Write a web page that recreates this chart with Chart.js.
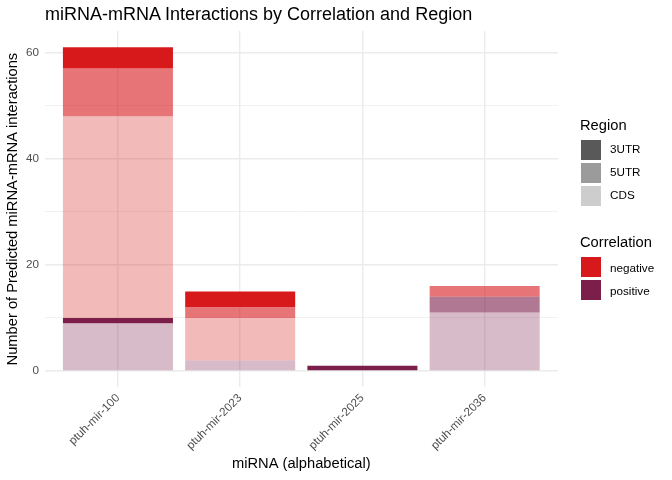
<!DOCTYPE html>
<html>
<head>
<meta charset="utf-8">
<script src="https://cdn.jsdelivr.net/npm/chart.js@4"></script>
<style>
  html, body { margin: 0; padding: 0; background: #fff; }
  #wrap { position: relative; width: 672px; height: 480px; font-family: "Liberation Sans", Arial, sans-serif; }
  #c { position: absolute; left: 0; top: 0; }
  .title { position: absolute; left: 45px; top: 4px; font-size: 18px; line-height: 20px; color: #000; white-space: nowrap; }
  .lg-title { position: absolute; left: 580px; font-size: 14.7px; line-height: 16px; color: #000; }
  .sw { position: absolute; left: 581px; width: 20px; height: 20px; }
  .lb { position: absolute; left: 610px; font-size: 11.7px; line-height: 14px; color: #000; }
</style>
</head>
<body>
<div id="wrap">
  <canvas id="c" width="672" height="480"></canvas>
  <div class="title">miRNA-mRNA Interactions by Correlation and Region</div>

  <div class="lg-title" style="top:117px">Region</div>
  <div class="sw" style="top:140px;background:#595959"></div><div class="lb" style="top:142px">3UTR</div>
  <div class="sw" style="top:163px;background:#9B9B9B"></div><div class="lb" style="top:165px">5UTR</div>
  <div class="sw" style="top:186px;background:#CDCDCD"></div><div class="lb" style="top:188px">CDS</div>

  <div class="lg-title" style="top:234px">Correlation</div>
  <div class="sw" style="top:257px;background:#D7191C"></div><div class="lb" style="top:261px">negative</div>
  <div class="sw" style="top:280px;background:#7B1E4A"></div><div class="lb" style="top:284px">positive</div>
</div>
<script>
const categories = ['ptuh-mir-100', 'ptuh-mir-2023', 'ptuh-mir-2025', 'ptuh-mir-2036'];
const positiveCDS  = [9, 2, 0, 11];
const positive5UTR = [0, 0, 0, 3];
const positive3UTR = [1, 0, 1, 0];
const negativeCDS  = [38, 8, 0, 0];
const negative5UTR = [9, 2, 0, 2];
const negative3UTR = [4, 3, 0, 0];
const yTicks = [0, 10, 20, 30, 40, 50, 60];

const FONT = '"Liberation Sans", Arial, sans-serif';
const toPts = arr => arr.map((v, i) => ({ x: i, y: v }));
const ds = (label, data, color) => ({
  label, data: toPts(data), backgroundColor: color, borderWidth: 0,
  categoryPercentage: 0.9, barPercentage: 1.0
});

new Chart(document.getElementById('c'), {
  type: 'bar',
  data: {
    datasets: [
      ds('positive CDS',  positiveCDS,  'rgba(123,30,74,0.3)'),
      ds('positive 5UTR', positive5UTR, 'rgba(123,30,74,0.6)'),
      ds('positive 3UTR', positive3UTR, 'rgba(123,30,74,1)'),
      ds('negative CDS',  negativeCDS,  'rgba(215,25,28,0.3)'),
      ds('negative 5UTR', negative5UTR, 'rgba(215,25,28,0.6)'),
      ds('negative 3UTR', negative3UTR, 'rgba(215,25,28,1)')
    ]
  },
  options: {
    responsive: false,
    animation: false,
    devicePixelRatio: 1,
    layout: { padding: { left: 0, right: 114, top: 31, bottom: 0 } },
    plugins: { legend: { display: false }, title: { display: false }, tooltip: { enabled: false } },
    scales: {
      x: {
        type: 'linear',
        stacked: true,
        offset: false,
        min: -0.6, max: 3.6,
        afterBuildTicks: s => { s.ticks = categories.map((c, i) => ({ value: i })); },
        afterFit: s => { s.height = 92.8; },
        border: { display: false },
        grid: { color: '#EBEBEB', lineWidth: 1.4, drawTicks: false, offset: false },
        ticks: {
          autoSkip: false, minRotation: 45, maxRotation: 45, padding: 4,
          color: '#4D4D4D', font: { family: FONT, size: 11.7 },
          callback: v => categories[v]
        },
        title: { display: true, text: 'miRNA (alphabetical)', color: '#000',
                 font: { family: FONT, size: 14.7 }, padding: { top: 0, bottom: 7 } }
      },
      y: {
        stacked: true,
        min: -3.05, max: 64.05,
        afterBuildTicks: s => { s.ticks = yTicks.map(v => ({ value: v })); },
        afterFit: s => { s.width = 44.6; },
        border: { display: false },
        grid: {
          color: '#EBEBEB', drawTicks: false,
          lineWidth: ctx => (ctx.tick && ctx.tick.value % 20 === 0) ? 1.4 : 0.7
        },
        ticks: {
          padding: 5.5, color: '#4D4D4D', font: { family: FONT, size: 11.7 },
          callback: v => (v % 20 === 0 ? String(v) : '')
        },
        title: { display: true, text: 'Number of Predicted miRNA-mRNA interactions', color: '#000',
                 font: { family: FONT, size: 14.7 }, padding: { top: 4, bottom: 0 } }
      }
    }
  }
});
</script>
</body>
</html>
